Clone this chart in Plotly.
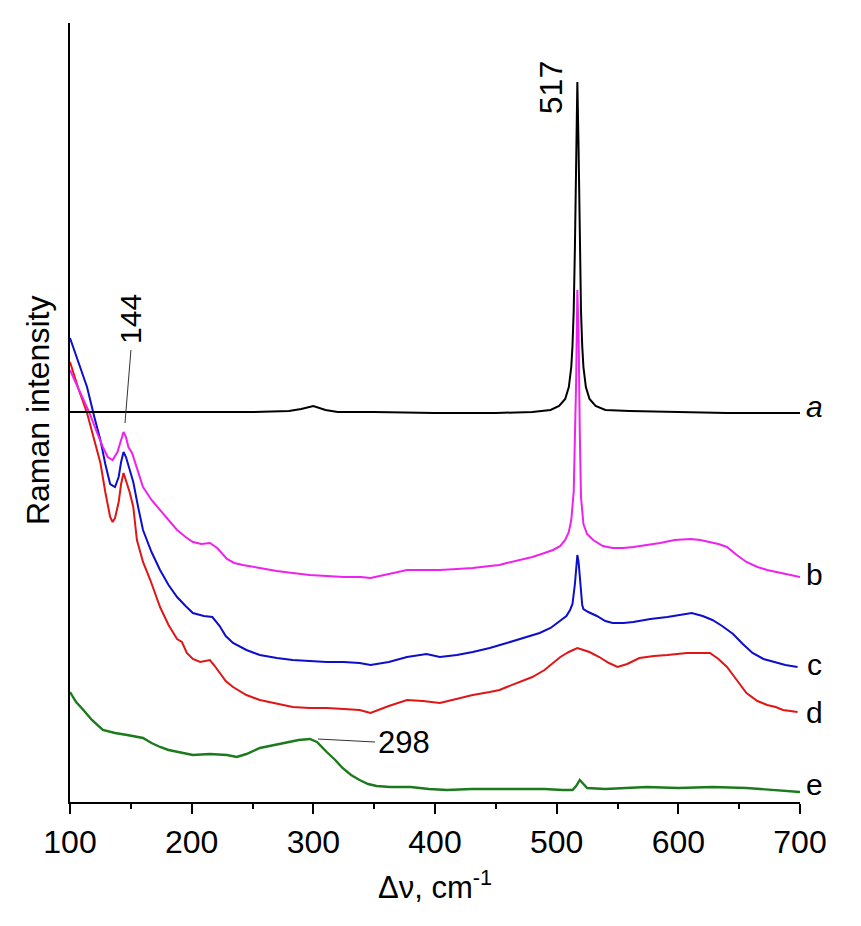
import plotly.graph_objects as go

# Raman shift (cm-1) and intensities (arbitrary units)
a_x = [100,150,200,250,280,290,300,310,320,350,400,450,480,495,502,507,510,512,513,514,515,516,517,518,519,520,521,522,524,527,532,540,560,600,640,700]
a_y = [390,390,390,390,391,393,396,392,390,390,389,389,390,392,396,403,415,435,456,491,555,654,720,654,555,491,456,435,415,403,396,392,391,390,389,389]

b_x = [100,108,116,122,127,131,135,139,142,144,146,148,151,155,160,167,174,181,188,195,201,208,215,221,229,235,242,256,270,283,297,311,325,339,347,362,377,390,404,418,431,445,453,459,470,480,490,497,503,507,510,512,514,516,517,518,519,520,522,525,530,538,546,555,563,575,585,597,610,618,626,633,640,648,656,665,673,680,686,692,700]
b_y = [432,410,389,370,355,345,342,350,362,370,365,355,349,333,315,302,292,282,272,265,260,258,259,254,243,239,237,234,231,229,227,226,225,225,224,228,232,232,232,233,234,236,237,239,242,245,249,252,256,262,270,282,310,420,512,470,370,305,278,268,262,256,254,254,255,257,259,262,263,262,260,258,255,247,240,235,232,230,229,227,225]

c_x = [100,107,114,120,125,129,133,137,140,142,144,146,149,152,156,160,167,174,181,188,195,201,210,217,223,228,234,245,256,270,283,297,311,325,338,347,362,377,393,404,418,431,445,459,472,486,495,503,508,511,513,515,516,517,518,519,520,521,522,526,533,540,546,555,563,577,591,600,611,620,628,636,645,653,661,670,678,688,698]
c_y = [464,440,415,385,362,338,318,315,325,340,350,345,332,320,295,272,250,232,217,205,196,189,186,185,176,166,159,152,147,144,142,141,140,140,139,137,140,145,148,145,147,150,154,159,164,169,174,181,186,192,198,218,238,247,240,225,208,197,193,190,186,181,179,179,180,183,185,187,189,186,182,176,168,158,149,143,140,137,135]

d_x = [100,107,114,120,125,129,133,135,137,140,142,144,146,149,152,155,160,166,174,181,188,192,196,201,207,211,215,219,223,228,234,245,256,270,283,297,311,325,338,347,362,377,390,404,418,431,445,453,459,470,480,490,503,510,517,522,527,535,543,550,558,568,580,591,600,607,617,626,633,640,648,656,665,673,680,686,692,698]
d_y = [440,413,389,362,339,310,285,280,284,300,318,329,322,310,295,262,240,222,195,177,163,160,149,143,140,141,142,136,129,121,115,107,102,98,95,94,94,93,92,89,96,102,101,99,103,107,110,112,115,120,125,132,145,150,154,152,150,145,139,135,138,144,146,147,148,149,149,149,143,135,122,109,101,97,95,92,91,90]

e_x = [100,105,111,118,127,137,147,160,167,174,181,188,195,201,215,229,237,245,256,267,278,288,297,303,311,318,324,331,338,345,352,363,380,395,410,430,464,490,505,513,516,519,522,525,540,574,600,628,656,680,700]
e_y = [110,100,92,82,72,69,67,64,59,55,52,50,48,47,48,47,45,48,54,57,60,62,63,60,50,42,34,27,22,18,16,15,15,13,12,13,13,13,12,12,16,22,18,14,13,15,14,15,14,12,10]

series = [
    ("e", e_x, e_y, "#1B7A1B", 2.4),
    ("d", d_x, d_y, "#E01515", 2.0),
    ("c", c_x, c_y, "#0D0DCC", 2.0),
    ("b", b_x, b_y, "#EE22EE", 2.0),
    ("a", a_x, a_y, "#000000", 2.0),
]

curve_labels = ["a", "b", "c", "d", "e"]
label_y = [396, 228, 138, 90, 18]

FONT = "Arial, Liberation Sans, sans-serif"

fig = go.Figure()
for name, xs, ys, col, w in series:
    fig.add_trace(go.Scatter(x=xs, y=ys, mode="lines", name=name,
                             line=dict(color=col, width=w), showlegend=False,
                             hoverinfo="skip"))

annotations = []
for lab, ly in zip(curve_labels, label_y):
    txt = "<i>a</i>" if lab == "a" else lab
    annotations.append(dict(x=1.0205, xref="paper", y=ly, yref="y", text=txt,
                            showarrow=False, xanchor="center", yanchor="middle",
                            font=dict(family=FONT, size=30, color="black")))

# peak labels
annotations.append(dict(x=495.5, y=714, xref="x", yref="y", text="517", textangle=-90,
                        showarrow=False, font=dict(family=FONT, size=32, color="black")))
annotations.append(dict(x=149.3, y=483, xref="x", yref="y", text="144", textangle=-90,
                        showarrow=False, font=dict(family=FONT, size=30, color="black")))
annotations.append(dict(x=351.5, y=60, xref="x", yref="y", text="298", xanchor="left",
                        showarrow=False, font=dict(family=FONT, size=31, color="black")))

# axis titles
annotations.append(dict(x=0.5, xref="paper", y=-0.107, yref="paper",
                        text="\u0394\u03bd, cm<sup>-1</sup>", showarrow=False,
                        xanchor="center", yanchor="middle",
                        font=dict(family=FONT, size=31, color="black")))
annotations.append(dict(x=-0.044, xref="paper", y=0.503, yref="paper",
                        text="Raman intensity", textangle=-90, showarrow=False,
                        xanchor="center", yanchor="middle",
                        font=dict(family=FONT, size=32, color="black")))

shapes = [
    dict(type="line", xref="x", yref="y", x0=150.1, y0=452, x1=145.2, y1=379,
         line=dict(color="#333333", width=1)),
    dict(type="line", xref="x", yref="y", x0=303.8, y0=63, x1=350.7, y1=60,
         line=dict(color="#333333", width=1)),
]

# the page body adds an 8 px offset, so the figure is sized to compensate
fig.update_layout(
    width=845, height=910,
    margin=dict(l=62, r=53, t=15, b=116, autoexpand=False),
    paper_bgcolor="white", plot_bgcolor="white",
    annotations=annotations, shapes=shapes,
    xaxis=dict(range=[100, 700], showline=True, linewidth=2.2, linecolor="black",
               ticks="outside", ticklen=10, tickwidth=2, tickcolor="black",
               dtick=100, tick0=100, showgrid=False, zeroline=False,
               minor=dict(ticks="outside", ticklen=5, tickwidth=2, tickcolor="black", dtick=50),
               tickfont=dict(family=FONT, size=32, color="black")),
    yaxis=dict(range=[0, 779], showline=True, linewidth=2.2, linecolor="black",
               ticks="", showticklabels=False, showgrid=False, zeroline=False),
)

fig.write_html("out.html")
